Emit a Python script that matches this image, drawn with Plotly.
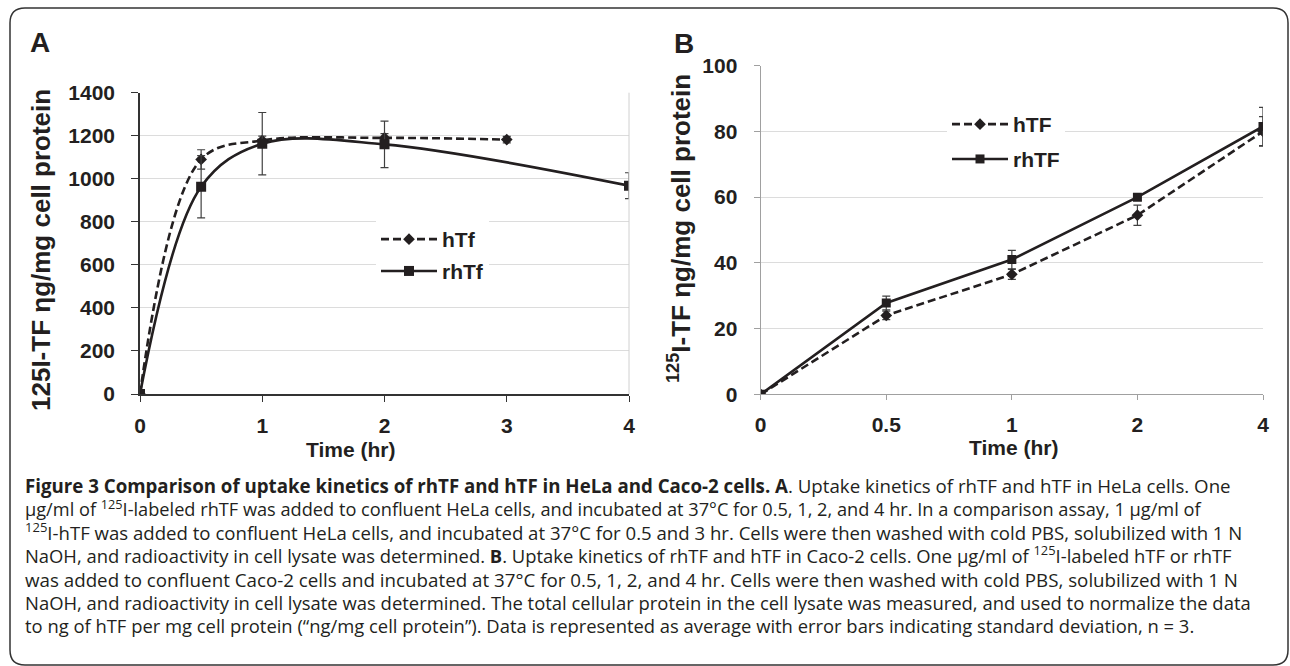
import plotly.graph_objects as go

# ---------------- data ----------------
# Panel A: HeLa cells
a_time_htf = [0, 0.5, 1, 2, 3]
a_htf = [0, 1090, 1178, 1190, 1182]
a_htf_sd = [0, 45, 20, 20, 15]
a_time_rhtf = [0, 0.5, 1, 2, 4]
a_rhtf = [0, 963, 1163, 1160, 968]
a_rhtf_sd = [0, 145, 145, 108, 60]
a_xticks = [0, 1, 2, 3, 4]
a_yticks = [0, 200, 400, 600, 800, 1000, 1200, 1400]

# Panel B: Caco-2 cells
b_time = ["0", "0.5", "1", "2", "4"]
b_htf = [0, 24.0, 36.5, 54.5, 80.0]
b_htf_sd = [0, 1.3, 1.5, 3.1, 4.5]
b_rhtf = [0, 27.8, 41.0, 60.0, 81.5]
b_rhtf_sd = [0, 2.1, 2.8, 1.0, 5.8]
b_yticks = [0, 20, 40, 60, 80, 100]

caption_lines = [
    "<b>Figure 3 Comparison of uptake kinetics of rhTF and hTF in HeLa and Caco-2 cells. A</b>. Uptake kinetics of rhTF and hTF in HeLa cells. One",
    "µg/ml of <sup>125</sup>I-labeled rhTF was added to confluent HeLa cells, and incubated at 37°C for 0.5, 1, 2, and 4 hr. In a comparison assay, 1 µg/ml of",
    "<sup>125</sup>I-hTF was added to confluent HeLa cells, and incubated at 37°C for 0.5 and 3 hr. Cells were then washed with cold PBS, solubilized with 1 N",
    "NaOH, and radioactivity in cell lysate was determined. <b>B</b>. Uptake kinetics of rhTF and hTF in Caco-2 cells. One µg/ml of <sup>125</sup>I-labeled hTF or rhTF",
    "was added to confluent Caco-2 cells and incubated at 37°C for 0.5, 1, 2, and 4 hr. Cells were then washed with cold PBS, solubilized with 1 N",
    "NaOH, and radioactivity in cell lysate was determined. The total cellular protein in the cell lysate was measured, and used to normalize the data",
    "to ng of hTF per mg cell protein (“ng/mg cell protein”). Data is represented as average with error bars indicating standard deviation, n = 3.",
]

# ---------------- layout helpers ----------------
W, H = 1290, 666
def X(px):
    return px / W
def Y(py):
    return 1 - py / H

FONT = "Liberation Sans, Arial, Helvetica, sans-serif"
CAPFONT = "Open Sans, Noto Sans, sans-serif"
DARK = "#231f20"

fig = go.Figure()

# Panel A traces
fig.add_trace(go.Scatter(
    x=a_time_htf, y=a_htf, name="hTf", mode="lines+markers",
    line=dict(color=DARK, width=2.6, dash="8px,4px", shape="spline", smoothing=1.0),
    marker=dict(symbol="diamond", size=9, color=DARK),
    error_y=dict(type="data", array=a_htf_sd, color="#404040", thickness=1.2, width=4),
    xaxis="x", yaxis="y", legend="legend", legendgroup="a1"))
fig.add_trace(go.Scatter(
    x=a_time_rhtf, y=a_rhtf, name="rhTf", mode="lines+markers",
    line=dict(color=DARK, width=2.6, shape="spline", smoothing=1.0),
    marker=dict(symbol="square", size=10, color=DARK),
    error_y=dict(type="data", array=a_rhtf_sd, color="#404040", thickness=1.2, width=4),
    xaxis="x", yaxis="y", legend="legend", legendgroup="a2"))

# Panel B traces
fig.add_trace(go.Scatter(
    x=b_time, y=b_htf, name="hTF", mode="lines+markers",
    line=dict(color=DARK, width=2.6, dash="8px,4px"),
    marker=dict(symbol="diamond", size=9, color=DARK),
    error_y=dict(type="data", array=b_htf_sd, color="#404040", thickness=1.2, width=4),
    xaxis="x2", yaxis="y2", legend="legend2", legendgroup="b1"))
fig.add_trace(go.Scatter(
    x=b_time, y=b_rhtf, name="rhTF", mode="lines+markers",
    line=dict(color=DARK, width=2.6),
    marker=dict(symbol="square", size=9, color=DARK),
    error_y=dict(type="data", array=b_rhtf_sd, color="#404040", thickness=1.2, width=4),
    xaxis="x2", yaxis="y2", legend="legend2", legendgroup="b2"))

tickfont = dict(family=FONT, size=21, color=DARK, weight="bold")
legfont = dict(family=FONT, size=21, color=DARK, weight="bold")

fig.update_layout(
    width=W, height=H, autosize=False,
    margin=dict(l=0, r=0, t=0, b=0, autoexpand=False),
    paper_bgcolor="white", plot_bgcolor="white",
    showlegend=True,
    xaxis=dict(domain=[X(140), X(629)], range=[0, 4], tickvals=a_xticks,
               showgrid=False, zeroline=False, showline=True, linecolor="#333",
               linewidth=1.5, ticks="outside", ticklen=6, tickcolor="#333",
               tickfont=tickfont, ticklabelstandoff=6, anchor="y", automargin=False),
    yaxis=dict(domain=[Y(394), Y(92.7)], range=[0, 1400], tickvals=a_yticks,
               showgrid=True, gridcolor="#dcdcdc", gridwidth=1, zeroline=False,
               showline=True, linecolor="#333", linewidth=1.5, ticks="outside",
               ticklen=7, tickcolor="#333", tickfont=tickfont,
               ticklabelstandoff=12, anchor="x", automargin=False),
    xaxis2=dict(domain=[X(760.7), X(1263)], type="category", range=[0, 4],
                categoryorder="array", categoryarray=b_time,
                showgrid=False, zeroline=False, showline=True, linecolor="#a0a0a0",
                linewidth=1.3, ticks="outside", ticklen=5, tickcolor="#a0a0a0",
                tickfont=tickfont, ticklabelstandoff=6, anchor="y2", automargin=False),
    yaxis2=dict(domain=[Y(394.3), Y(65.7)], range=[0, 100], tickvals=b_yticks,
                showgrid=True, gridcolor="#dcdcdc", gridwidth=1, zeroline=False,
                showline=True, linecolor="#a0a0a0", linewidth=1.3, ticks="outside",
                ticklen=6, tickcolor="#a0a0a0", tickfont=tickfont,
                ticklabelstandoff=12, anchor="x2", automargin=False),
    legend=dict(x=X(376), y=Y(219), xanchor="left", yanchor="top",
                bgcolor="white", borderwidth=0, tracegroupgap=1.5, itemwidth=56,
                font=legfont),
    legend2=dict(x=X(947), y=Y(104), xanchor="left", yanchor="top",
                 bgcolor="white", borderwidth=0, tracegroupgap=4.5, itemwidth=56,
                 font=legfont),
)

# plot-area right border of panel A
shapes = [dict(type="line", xref="x domain", yref="y domain", x0=1, x1=1, y0=0, y1=1,
               line=dict(color="#d0d0d0", width=1))]

# outer rounded frame
l, t, r, b, rad = 10, 8, 1288, 665, 15
path = (f"M {X(l+rad)},{Y(t)} L {X(r-rad)},{Y(t)} Q {X(r)},{Y(t)} {X(r)},{Y(t+rad)} "
        f"L {X(r)},{Y(b-rad)} Q {X(r)},{Y(b)} {X(r-rad)},{Y(b)} "
        f"L {X(l+rad)},{Y(b)} Q {X(l)},{Y(b)} {X(l)},{Y(b-rad)} "
        f"L {X(l)},{Y(t+rad)} Q {X(l)},{Y(t)} {X(l+rad)},{Y(t)} Z")
shapes.append(dict(type="path", xref="paper", yref="paper", path=path,
                   line=dict(color="#333", width=1.5), layer="above"))
fig.update_layout(shapes=shapes)

ann = []
# panel letters
ann.append(dict(text="<b>A</b>", x=X(40), y=Y(42), xref="paper", yref="paper",
                showarrow=False, xanchor="center", yanchor="middle",
                font=dict(family=FONT, size=28, color=DARK)))
ann.append(dict(text="<b>B</b>", x=X(684), y=Y(43), xref="paper", yref="paper",
                showarrow=False, xanchor="center", yanchor="middle",
                font=dict(family=FONT, size=28, color=DARK)))
# axis titles
ann.append(dict(text="<b>125I-TF ηg/mg cell protein</b>", x=X(41), y=Y(250),
                xref="paper", yref="paper", showarrow=False, textangle=-90,
                xanchor="center", yanchor="middle",
                font=dict(family=FONT, size=26, color=DARK)))
ann.append(dict(text="<b><sup>125</sup>I-TF ηg/mg cell protein</b>", x=X(680), y=Y(229),
                xref="paper", yref="paper", showarrow=False, textangle=-90,
                xanchor="center", yanchor="middle",
                font=dict(family=FONT, size=26, color=DARK)))
ann.append(dict(text="<b>Time (hr)</b>", x=X(350), y=Y(449), xref="paper", yref="paper",
                showarrow=False, xanchor="center", yanchor="middle",
                font=dict(family=FONT, size=21, color=DARK)))
ann.append(dict(text="<b>Time (hr)</b>", x=X(1013), y=Y(447), xref="paper", yref="paper",
                showarrow=False, xanchor="center", yanchor="middle",
                font=dict(family=FONT, size=21, color=DARK)))

# caption: one block, line spacing 1.3 * 18 px; per-line size tuned to line length
cap_sizes = [18.7, 18.2, 18.6, 18.4, 18.75, 18.45, 18.4]
cap_text = "<br>".join(
    f'<span style="font-size:{s}px">{line}</span>' for s, line in zip(cap_sizes, caption_lines)
)
ann.append(dict(text=cap_text, x=X(23), y=Y(555.5), xref="paper", yref="paper",
                showarrow=False, xanchor="left", yanchor="middle", align="left",
                font=dict(family=CAPFONT, size=18, color="#231f20")))
fig.update_layout(annotations=ann)

fig.write_html(
    "out.html",
    config={"displayModeBar": False},
    post_script="document.body.style.margin='0';document.body.style.padding='0';"
                "document.documentElement.style.overflow='hidden';",
)
